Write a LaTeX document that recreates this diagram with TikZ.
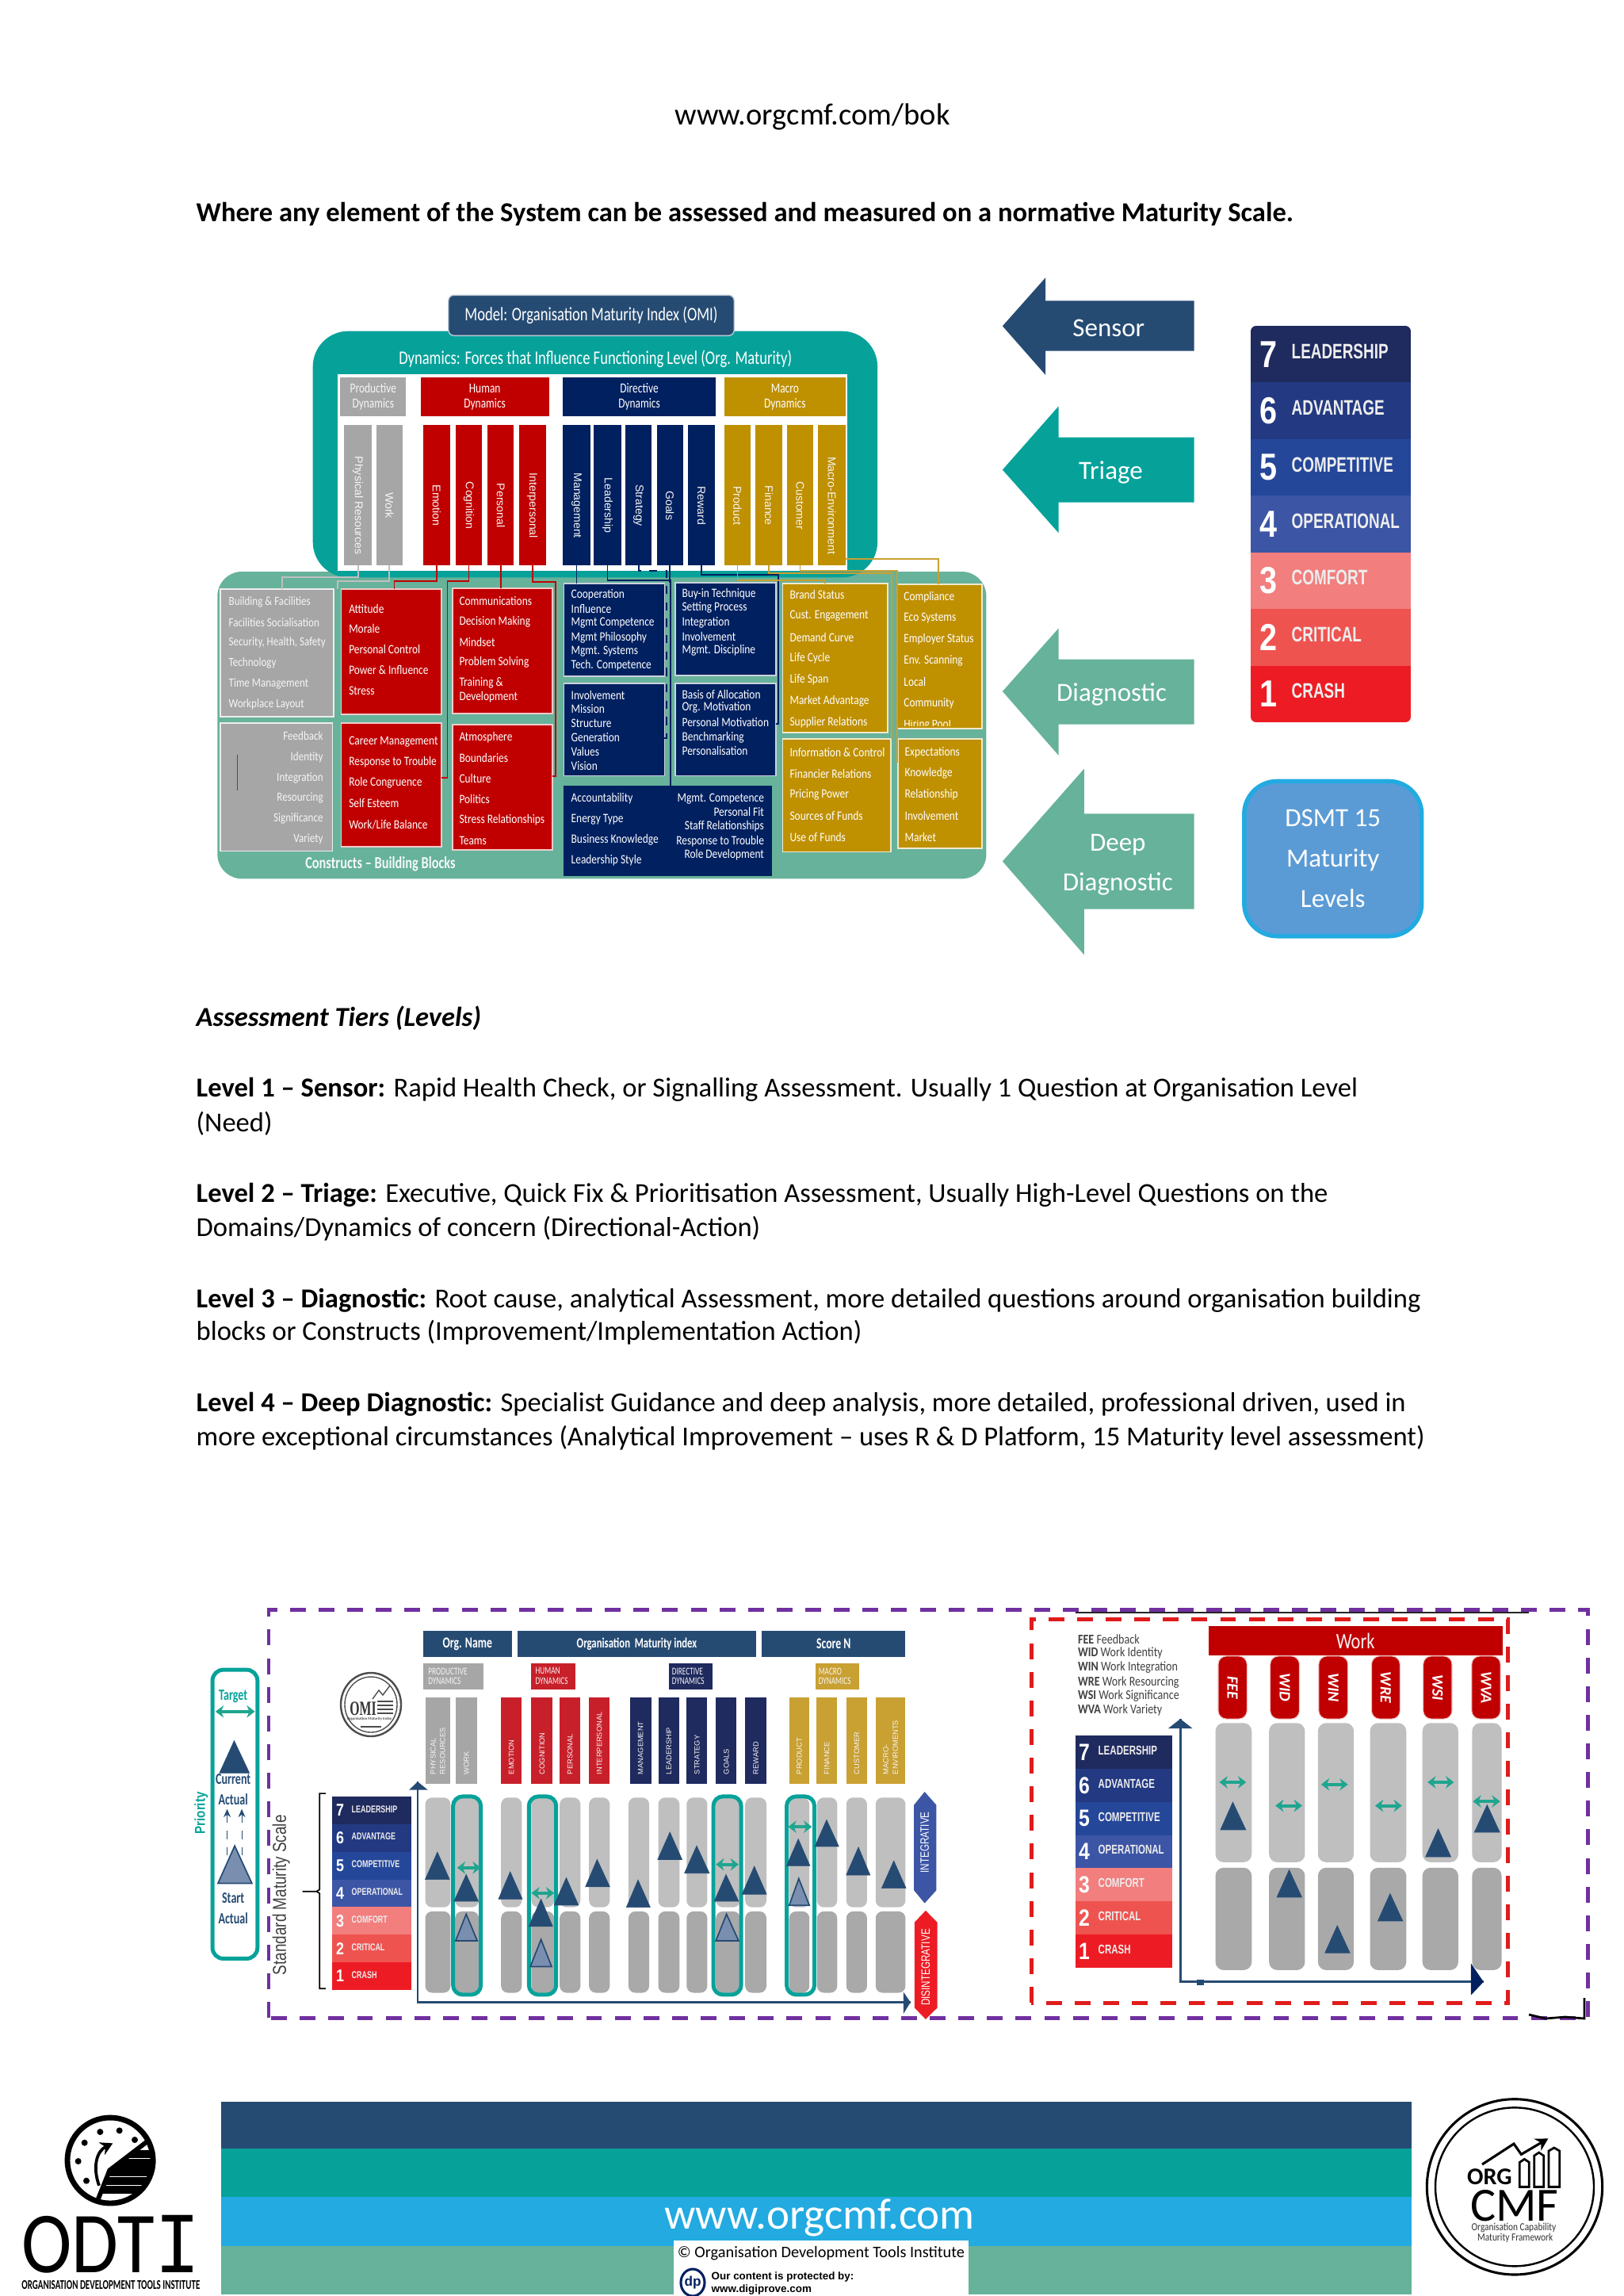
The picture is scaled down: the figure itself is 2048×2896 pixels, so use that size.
\documentclass[tikz,border=0pt]{standalone}
\usepackage{graphicx}
\usepackage{fontspec}
\setmainfont{Carlito}
\newfontfamily\arl{Liberation Sans}
\newfontfamily\srf{Liberation Serif}
\newfontfamily\mno{Liberation Mono}
\usetikzlibrary{arrows.meta,calc}
\definecolor{dk}{HTML}{264B73}
\definecolor{tl}{HTML}{06A29A}
\definecolor{gn}{HTML}{66B29A}
\definecolor{sky}{HTML}{22AAE1}
\definecolor{rd}{HTML}{C00000}
\definecolor{nv}{HTML}{002060}
\definecolor{gd}{HTML}{BF9000}
\definecolor{gy}{HTML}{A6A6A6}
\definecolor{sc7}{HTML}{1F2A5E}
\definecolor{sc6}{HTML}{233A82}
\definecolor{sc5}{HTML}{25479A}
\definecolor{sc4}{HTML}{3C55A5}
\definecolor{sc3}{HTML}{F27E7E}
\definecolor{sc2}{HTML}{EF5350}
\definecolor{sc1}{HTML}{ED1C24}
\definecolor{pp}{HTML}{7030A0}
\definecolor{rdash}{HTML}{E01B1B}
\definecolor{ta}{HTML}{1FA58F}
\definecolor{ured}{HTML}{C8202A}
\definecolor{unv}{HTML}{1F2A5E}
\definecolor{ugd}{HTML}{C9A032}
\definecolor{barU}{HTML}{BFBFBF}
\definecolor{barL}{HTML}{A9A9A9}
\definecolor{ltri}{HTML}{7A8FB0}
\definecolor{HTMLblue}{HTML}{5B9BD5}
\newcommand\fz[2]{\fontsize{#1}{#2}\selectfont}
\newcommand\tall[2]{\scalebox{1}[#1]{#2}}
\def\ux{0.29066}\def\uy{0.29066}
\newcommand{\bx}[7]{%
 \pgfmathsetmacro\bxw{(#4-#2)*\ux}\pgfmathsetmacro\bxh{(#5-#3)*\uy}%
 \node[#6,minimum width=\bxw pt,minimum height=\bxh pt,inner sep=0pt,outer sep=0pt] (#1) at ({(#2+#4)/2},{(#3+#5)/2}) {#7};}
\newcommand\lst[5]{\foreach \tx/\yy in {#5} \node[#3] (#1-\yy) at (#2,\yy) {\tall{#4}{\tx}};}
\newcommand\tri[6]{\filldraw[#6] (#1,#2) -- (#4,#5) -- (#3,#5) -- cycle;}
\newcommand\mscale[9]{%
 \pgfmathsetmacro\rh{(#4-#2)/7}%
 \foreach \n/\lab/\col [count=\i from 0] in {7/LEADERSHIP/sc7,6/ADVANTAGE/sc6,5/COMPETITIVE/sc5,4/OPERATIONAL/sc4,3/COMFORT/sc3,2/CRITICAL/sc2,1/CRASH/sc1}{%
  \fill[\col] (#1,{#2+\i*\rh}) rectangle (#3,{#2+(\i+1)*\rh+0.3});
  \node[text=white,font=\arl\bfseries\fz{#7}{#7}] (#9num\n) at (#5,{#2+(\i+.5)*\rh}) {\tall{1.2}{\n}};
  \node[text=white!93!black,anchor=west,inner sep=0pt,font=\arl\bfseries\fz{#8}{#8}] (#9lab\n) at (#6,{#2+(\i+.45)*\rh}) {\tall{1.4}{\lab}};
 }}
\tikzset{
 lw/.style={text=white,anchor=west,inner sep=0pt,font=\fz{3.9}{4}},
 lg/.style={text=white!92!gray,anchor=west,inner sep=0pt,font=\fz{3.8}{4}},
 rw/.style={text=white,anchor=east,inner sep=0pt,font=\fz{3.9}{4}},
 bbox/.style={fill=#1,draw=white!80!#1,line width=0.5pt},
 tlabel/.style={text=white,font=\fz{3.9}{5.5},align=center,inner sep=0pt},
 ctext/.style={rotate=-90,text=white!93!gray,inner sep=0pt,font=\arl\fz{4.1}{4}},
 conn/.style={line width=0.55pt,#1},
 arrowtext/.style={text=white,font=\fz{9.6}{14.5},align=center,inner sep=0pt},
 bodyt/.style={anchor=west,inner sep=0pt,text=black,font=\fz{10.05}{12}},
 dark/.style={fill=dk,draw=dk,line width=0.2pt},
 light/.style={fill=ltri,draw=dk,line width=0.5pt},
 dbl/.style={<->,>={Stealth[length=3pt,width=4.5pt]},draw=ta,line width=1.1pt},
 coltextU/.style={rotate=90,anchor=west,inner sep=0pt,text=white!92!gray,align=left,font=\arl\fz{2.7}{3.5}},
 hl/.style={draw=tl,line width=1.45pt,rounded corners=3.5pt},
 vtag/.style={text=white,rotate=90,inner sep=0pt,font=\arl\fz{3.4}{4}},
}
\begin{document}
\begin{tikzpicture}[x=0.29066pt,y=-0.29066pt]
\useasboundingbox (0,0) rectangle (2048,2896);
% --- text page
\node[inner sep=0pt,font=\fz{11.2}{13}] (hdr) at (1025,147) {www.orgcmf.com/bok};
\node[bodyt] (p0) at (247,270) {\textbf{Where any element of the System can be assessed and measured on a normative Maturity Scale.}};
\node[bodyt] (p1) at (247,1284) {\textbf{\textit{Assessment Tiers (Levels)}}};
\node[bodyt] (p2a) at (247,1374) {\textbf{Level 1 -- Sensor:} Rapid Health Check, or Signalling Assessment. Usually 1 Question at Organisation Level};
\node[bodyt] (p2b) at (247,1417) {(Need)};
\node[bodyt] (p3a) at (247,1507) {\textbf{Level 2 -- Triage:} Executive, Quick Fix \& Prioritisation Assessment, Usually High-Level Questions on the};
\node[bodyt] (p3b) at (247,1550) {Domains/Dynamics of concern (Directional-Action)};
\node[bodyt] (p4a) at (247,1640) {\textbf{Level 3 -- Diagnostic:} Root cause, analytical Assessment, more detailed questions around organisation building};
\node[bodyt] (p4b) at (247,1681) {blocks or Constructs (Improvement/Implementation Action)};
\node[bodyt] (p5a) at (247,1771) {\textbf{Level 4 -- Deep Diagnostic:} Specialist Guidance and deep analysis, more detailed, professional driven, used in};
\node[bodyt] (p5b) at (247,1814) {more exceptional circumstances (Analytical Improvement -- uses R \& D Platform, 15 Maturity level assessment)};

% --- top diagram (zoom-2 units)
\begin{scope}[shift={(260,700)},x=0.18911pt,y=-0.09689pt]
\def\ux{0.18911}\def\uy{0.09689}
\fill[gn,rounded corners=9pt] (22,63) rectangle (1513,1225);
\fill[tl,rounded corners=13pt] (207,-847) rectangle (1302,85);
\fill[white] (255,-685) rectangle (1243,60);
\bx{model}{470}{-983}{1024}{-830}{fill=dk,draw=white!70!dk,line width=0.4pt,rounded corners=2pt}{\tall{1.3}{\textcolor{white}{\fz{5.4}{6}Model: Organisation Maturity Index (OMI)}}}
\node[inner sep=0pt,text=white,font=\fz{5.4}{6}] (dyn) at (755,-742) {\tall{1.3}{Dynamics: Forces that Influence Functioning Level (Org. Maturity)}};
\bx{hP}{260}{-672}{388}{-525}{fill=gy,tlabel,text=white!92!gray}{\tall{1.3}{Productive}\\\tall{1.3}{Dynamics}}
\bx{hH}{416}{-672}{665}{-525}{fill=rd,tlabel}{\tall{1.3}{Human}\\\tall{1.3}{Dynamics}}
\bx{hD}{692}{-672}{988}{-525}{fill=nv,tlabel}{\tall{1.3}{Directive}\\\tall{1.3}{Dynamics}}
\bx{hM}{1005}{-672}{1240}{-525}{fill=gd,tlabel}{\tall{1.3}{Macro}\\\tall{1.3}{Dynamics}}
\foreach \nm/\a/\b/\c/\tx in {cPR/268/321/gy/Physical Resources,cW/330/381/gy/Work,cEm/421/473/rd/Emotion,cCo/484/535/rd/Cognition,cPe/546/597/rd/Personal,cIn/607/659/rd/Interpersonal,cMa/692/745/nv/Management,cLe/752/805/nv/Leadership,cSt/813/864/nv/Strategy,cGo/874/925/nv/Goals,cRe/935/987/nv/Reward,cPr/1005/1056/gd/Product,cFi/1065/1118/gd/Finance,cCu/1126/1178/gd/Customer,cMe/1187/1240/gd/Macro-Environment}{
 \bx{\nm}{\a}{-492}{\b}{38}{fill=\c}{}
 \node[ctext] (\nm-t) at ($(\nm)+(0,40)$) {\tx};
}
% construct boxes
\bx{gA}{28}{130}{247}{612}{bbox=gy}{}
\lst{gA}{43}{lg}{1.2}{Building \& Facilities/178,Facilities Socialisation/255,{Security, Health, Safety}/332,Technology/410,Time Management/487,Workplace Layout/565}
\bx{gB}{28}{635}{245}{1120}{bbox=gy}{}
\lst{gB}{228}{lg,anchor=east}{1.2}{Feedback/685,Identity/765,Integration/843,Resourcing/920,Significance/997,Variety/1075}
\draw[line width=0.4pt,draw=black!70] (61,755) coordinate (gBm1) -- (61,890) coordinate (gBm2);
\bx{rA}{262}{130}{457}{603}{bbox=rd}{}
\lst{rA}{276}{lw}{1.2}{Attitude/203,Morale/280,Personal Control/358,Power \& Influence/436,Stress/513}
\bx{rB}{478}{125}{672}{600}{bbox=rd}{}
\lst{rB}{490}{lw}{1.2}{Communications/173,Decision Making/253,Mindset/330,Problem Solving/407,Training \&/483,Development/538}
\bx{rC}{262}{637}{457}{1103}{bbox=rd}{}
\lst{rC}{276}{lw}{1.2}{Career Management/708,Response to Trouble/785,Role Congruence/863,Self Esteem/940,{Work/Life Balance}/1020}
\bx{rD}{478}{643}{672}{1115}{bbox=rd}{}
\lst{rD}{490}{lw}{1.2}{Atmosphere/692,Boundaries/768,Culture/847,Politics/925,Stress Relationships/1003,Teams/1080}
\bx{nA}{694}{107}{889}{458}{bbox=nv}{}
\lst{nA}{707}{lw}{1.2}{Cooperation/150,Influence/203,Mgmt Competence/257,Mgmt Philosophy/312,Mgmt. Systems/365,Tech. Competence/418}
\bx{nB}{910}{105}{1105}{455}{bbox=nv}{}
\lst{nB}{922}{lw}{1.2}{Buy-in Technique/148,Setting Process/200,Integration/255,Involvement/308,Mgmt. Discipline/360}
\bx{nC}{694}{485}{889}{835}{bbox=nv}{}
\lst{nC}{707}{lw}{1.2}{Involvement/530,Mission/583,Structure/636,Generation/690,Values/744,Vision/797}
\bx{nD}{910}{485}{1105}{835}{bbox=nv}{}
\lst{nD}{922}{lw}{1.2}{Basis of Allocation/527,Org. Motivation/578,Personal Motivation/633,Benchmarking/690,Personalisation/740}
\bx{nE}{693}{873}{1098}{1215}{fill=nv}{}
\lst{nE}{707}{lw}{1.2}{Accountability/922,Energy Type/1000,Business Knowledge/1078,Leadership Style/1155}
\lst{nEr}{1083}{rw}{1.2}{Mgmt. Competence/923,Personal Fit/973,Staff Relationships/1027,Response to Trouble/1083,Role Development/1135}
\bx{gdA}{1118}{107}{1322}{672}{bbox=gd}{}
\lst{gdA}{1131}{lw}{1.2}{Brand Status/150,Cust. Engagement/231,Demand Curve/312,Life Cycle/392,Life Span/473,Market Advantage/553,Supplier Relations/633}
\bx{gdB}{1340}{112}{1505}{658}{bbox=gd}{}
\lst{gdB}{1352}{lw}{1.2}{Compliance/160,Eco Systems/240,Employer Status/320,Env. Scanning/401,Local/481,Community/561}
\begin{scope}
\clip (1340,625) rectangle (1505,645);
\node[lw] (gdB-h) at (1352,642) {\tall{1.2}{Hiring Pool}};
\end{scope}
\bx{gdC}{1118}{697}{1328}{1123}{bbox=gd}{}
\lst{gdC}{1131}{lw}{1.2}{Information \& Control/747,Financier Relations/827,Pricing Power/907,Sources of Funds/988,Use of Funds/1068}
\bx{gdD}{1342}{697}{1505}{1110}{bbox=gd}{}
\lst{gdD}{1354}{lw}{1.2}{Expectations/747,Knowledge/827,Relationship/907,Involvement/988,Market/1068}
\node[inner sep=0pt,text=white!92!gn,font=\bfseries\fz{4.75}{5}] (cbb) at (338,1168) {\tall{1.3}{Constructs -- Building Blocks}};
% connectors
\coordinate (jW) at (255,100); \coordinate (jPR) at (148,85);
\draw[conn=barU] (cPR.south) |- (jPR) -- (jPR |- gA.north);
\draw[conn=barU] (cW.south) |- (jW) -- (jW |- gA.north);
\coordinate (jE) at (365,100); \coordinate (jC) at (468,98); \coordinate (jI) at (678,103);
\draw[conn=rd] (cEm.south) |- (jE) -- (jE |- rA.north);
\draw[conn=rd] (cCo.south) |- (jC) -- (468,843) -- (457,843);
\draw[conn=rd] (cPe.south) -- (cPe.south |- rB.north);
\draw[conn=rd] (cIn.south) |- (jI) -- (678,838) -- (672,838);
\coordinate (jL) at (900,97); \coordinate (jS) at (893,60); \coordinate (jR) at (1110,75);
\draw[conn=nv] (cMa.south) -- (cMa.south |- nA.north);
\draw[conn=nv] (cLe.south) |- (jL) -- (jL |- nE.north);
\draw[conn=nv,dashed] (cSt.south) |- (jS) -- (893,693) -- (889,693);
\draw[conn=nv] (cGo.south) -- (cGo.south |- nB.north);
\draw[conn=nv] (cRe.south) |- (jR) -- (1110,640) -- (1105,640);
\coordinate (jP) at (1200,95); \coordinate (jF) at (1330,70); \coordinate (jU) at (1340,60); \coordinate (jM) at (1420,15);
\draw[conn=ugd] (cPr.south) |- (jP) -- (jP |- gdA.north);
\draw[conn=ugd] (cFi.south) |- (jF) -- (jF |- gdC.north);
\draw[conn=ugd] (cCu.south) |- (jU) -- (1340,785);
\draw[conn=ugd] (cMe.south east |- jM) -- (jM) -- (jM |- gdB.north);
\end{scope}

% --- arrows and scale (zoom-3 units)
\begin{scope}[shift={(1240,340)},x=0.11122pt,y=-0.16313pt]
\def\ux{0.11122}\def\uy{0.16313}
\fill[dk] (697,70) -- (207,70) -- (207,18) -- (65,127) -- (207,237) -- (207,183) -- (697,183) -- cycle;
\fill[tl] (697,377) -- (250,377) -- (250,307) -- (65,450) -- (250,592) -- (250,523) -- (697,523) -- cycle;
\fill[gn] (697,876) -- (250,876) -- (250,806) -- (65,948) -- (250,1092) -- (250,1022) -- (697,1022) -- cycle;
\fill[gn] (697,1223) -- (334,1223) -- (334,1122) -- (65,1330) -- (334,1540) -- (334,1437) -- (697,1437) -- cycle;
\node[arrowtext] (aS) at (415,132) {Sensor};
\node[arrowtext] (aT) at (422,456) {Triage};
\node[arrowtext] (aD) at (425,954) {Diagnostic};
\node[arrowtext] (aDD) at (445,1337) {Deep\\Diagnostic};
\bx{dsmt}{862}{1150}{1447}{1498}{fill=HTMLblue,draw=sky,line width=1.6pt,rounded corners=12pt,text=white,font=\fz{9.6}{14.8},align=center,text depth=0pt}{DSMT 15\\Maturity\\Levels}
\end{scope}
\begin{scope}
\clip[rounded corners=2pt] (1578,411) rectangle (1780,911);
\mscale{1578}{411}{1780}{911}{1600}{1629}{11.5}{5.5}{sa}
\end{scope}

% --- purple dashed frame and red frame
\draw[pp,line width=1.45pt,dash pattern=on 5.8pt off 4.7pt] (339,2545) -- (339,2030) -- (2003,2030) -- (2003,2545) -- cycle;
\draw[rdash,line width=1.45pt,dash pattern=on 5.8pt off 4.7pt] (1301,2526) -- (1301,2042) -- (1902,2042) -- (1902,2526) -- cycle;
\draw[black!85,line width=0.4pt] (1357,2034) coordinate (tl1) -- (1929,2034) coordinate (tl2);
\draw[black,line width=0.8pt] (1929,2541) coordinate (m1) -- (1950,2546) -- (1975,2544) -- (1999,2546) -- (1999,2520) coordinate (m2);

% --- bottom-left panel (zoom-4 units)
\begin{scope}[shift={(240,2020)},x=0.18537pt,y=-0.10010pt]
\def\ux{0.18537}\def\uy{0.10010}
\draw[draw=tl,line width=1.45pt,rounded corners=4pt] (44,250) rectangle (133,1308);
\node[text=tl,inner sep=0pt,font=\bfseries\fz{4.1}{5}] (tgt) at (85,348) {\tall{1.4}{Target}};
\draw[dbl] (50,403) coordinate (t1) -- (128,403) coordinate (t2);
\tri{87}{510}{58}{117}{628}{dark}
\node[text=dk,inner sep=0pt,font=\bfseries\fz{4.1}{5}] (cur) at (85,652) {\tall{1.4}{Current}};
\node[text=dk,inner sep=0pt,font=\bfseries\fz{4.1}{5}] (act) at (85,725) {\tall{1.4}{Actual}};
\draw[-{Stealth[length=3pt,width=2.6pt]},dk,dashed,line width=0.25pt] (73,930) coordinate (q1) -- (73,760) coordinate (q2);
\draw[-{Stealth[length=3pt,width=2.6pt]},dk,dashed,line width=0.25pt] (102,930) coordinate (q3) -- (102,760) coordinate (q4);
\tri{88}{895}{55}{122}{1032}{light}
\node[text=dk,inner sep=0pt,font=\bfseries\fz{4.1}{5}] (sta) at (85,1087) {\tall{1.4}{Start}};
\node[text=dk,inner sep=0pt,font=\bfseries\fz{4.1}{5}] (act2) at (85,1160) {\tall{1.4}{Actual}};
\node[text=tl,rotate=90,inner sep=0pt,font=\arl\bfseries\fz{4.4}{5}] (pri) at (22,775) {\tall{1.2}{Priority}};
\node[text=black!75,rotate=90,inner sep=0pt,font=\arl\fz{5.5}{6}] (sms) at (180,1075) {\tall{1.25}{Standard Maturity Scale}};
\draw[black,line width=0.5pt] (268,703) coordinate (b1) -- (256,703) -- (256,1055) -- (250,1062) -- (222,1062) coordinate (b0) -- (250,1062) -- (256,1069) -- (256,1418) -- (268,1418) coordinate (b2);
\bx{uOrg}{461}{108}{636}{203}{fill=dk,text=white,font=\bfseries\fz{4}{5}}{\tall{1.4}{Org. Name}}
\bx{uOmi}{648}{108}{1119}{203}{fill=dk,text=white,font=\bfseries\fz{3.7}{5}}{\tall{1.4}{Organisation\ \ Maturity index}}
\bx{uSco}{1131}{108}{1415}{203}{fill=dk,text=white,font=\bfseries\fz{4}{5}}{\tall{1.4}{Score N}}
\bx{uP}{461}{225}{580}{323}{fill=gy}{}
\bx{uH}{675}{225}{762}{323}{fill=ured}{}
\bx{uD}{947}{225}{1033}{323}{fill=unv}{}
\bx{uM}{1237}{225}{1323}{323}{fill=ugd}{}
\foreach \nm/\xx/\aa in {uP/470/PRODUCTIVE,uH/682/HUMAN,uD/952/DIRECTIVE,uM/1242/MACRO}{
 \node[text=white!92!gray,anchor=west,inner sep=0pt,font=\fz{2.7}{3}] (\nm-a) at (\xx,255) {\tall{1.4}{\aa}};
 \node[text=white!92!gray,anchor=west,inner sep=0pt,font=\fz{2.7}{3}] (\nm-b) at (\xx,290) {\tall{1.4}{DYNAMICS}};
}
% column heads
\foreach \nm/\a/\b/\c/\tx in {
 u1/465/515/gy/{PHYSICAL\\RESOURCES},u2/526/567/gy/WORK,
 u3/615/656/ured/EMOTION,u4/675/717/ured/COGNITION,u5/731/772/ured/PERSONAL,u6/789/830/ured/INTERPERSONAL,
 u7/870/912/unv/MANAGEMENT,u8/926/968/unv/LEADERSHIP,u9/982/1023/unv/STRATEGY,u10/1040/1081/unv/GOALS,u11/1098/1140/unv/REWARD,
 u12/1185/1225/ugd/PRODUCT,u13/1239/1280/ugd/FINANCE,u14/1298/1339/ugd/CUSTOMER,u15/1356/1415/ugd/{MACRO-\\ENVIROMENTS}}{
 \bx{\nm}{\a}{352}{\b}{668}{fill=\c}{}
 \node[coltextU] (\nm-t) at ($(\nm)+(0,125)$) {\tx};
}
% scale bars
\foreach \a/\b in {465/515,524/571,615/656,675/720,731/772,789/830,867/908,926/968,982/1023,1040/1088,1098/1140,1185/1225,1240/1280,1298/1339,1356/1415}{
 \fill[barU,rounded corners=2.5pt] (\a,718) rectangle (\b,1120);
 \fill[barL,rounded corners=2.5pt] (\a,1135) rectangle (\b,1433);
}
\draw[hl] (520,714) rectangle (575,1440);
\draw[hl] (670,714) rectangle (724,1440);
\draw[hl] (1035,714) rectangle (1090,1440);
\draw[hl] (1180,714) rectangle (1235,1440);
\tri{489}{918}{465}{513}{1018}{dark}
\tri{546}{1000}{522}{570}{1098}{dark}
\tri{633}{990}{610}{657}{1090}{dark}
\tri{744}{1012}{720}{768}{1112}{dark}
\tri{805}{945}{782}{830}{1045}{dark}
\tri{886}{1020}{863}{910}{1120}{dark}
\tri{949}{845}{925}{973}{945}{dark}
\tri{1002}{895}{978}{1027}{995}{dark}
\tri{1060}{1000}{1037}{1085}{1098}{dark}
\tri{1116}{970}{1092}{1140}{1072}{dark}
\tri{1203}{870}{1180}{1226}{968}{dark}
\tri{1259}{800}{1236}{1283}{897}{dark}
\tri{1322}{900}{1298}{1345}{1002}{dark}
\tri{1392}{950}{1368}{1416}{1050}{dark}
\tri{694}{1090}{670}{717}{1190}{dark}
\tri{546}{1145}{525}{568}{1243}{light}
\tri{694}{1238}{673}{715}{1337}{light}
\tri{1061}{1145}{1040}{1085}{1243}{light}
\tri{1204}{1015}{1185}{1225}{1113}{light}
\draw[dbl] (528,975) coordinate (d1) -- (575,975) coordinate (d2);
\draw[dbl] (675,1068) coordinate (d3) -- (720,1068) coordinate (d4);
\draw[dbl] (1040,963) coordinate (d5) -- (1085,963) coordinate (d6);
\draw[dbl] (1183,825) coordinate (d7) -- (1230,825) coordinate (d8);
% axes
\coordinate (uO) at (450,1468);
\coordinate (uTop) at (450,660);
\coordinate (uRt) at (1425,1468);
\draw[dk,line width=0.7pt] (uTop) -- (uO) -- (uRt);
\fill[dk] (uTop) -- (470,690) -- (433,690) -- cycle;
\fill[dk] (uRt) -- (1411,1430) -- (1411,1510) -- cycle;
% side tags
\fill[sc4] (1453,697) -- (1476,745) -- (1476,1058) -- (1453,1105) -- (1432,1058) -- (1432,745) -- cycle;
\fill[sc1] (1455,1132) -- (1478,1175) -- (1478,1488) -- (1455,1530) -- (1433,1488) -- (1433,1175) -- cycle;
\node[vtag] (vI) at (1453,882) {\tall{1.3}{INTEGRATIVE}};
\node[vtag] (vD) at (1455,1340) {\tall{1.3}{DISINTEGRATIVE}};
\end{scope}
% scale 2
\mscale{419}{2266}{519}{2510}{429}{443}{5.2}{2.6}{sb}
% OMI logo
\draw[black!70,line width=0.7pt] (468,2150) ellipse [x radius=38,y radius=40];
\draw[black!70,line width=0.4pt] (468,2150) ellipse [x radius=33,y radius=35];
\node[inner sep=0pt,text=black!80,font=\srf\bfseries\fz{4.6}{5}] (omi) at (458,2155) {\tall{1.6}{OMI}};
\foreach \yy in {2146,2151,2156,2161} \draw[black!70,line width=0.4pt] (476,\yy) -- (496,\yy);
\draw[black!70,line width=0.4pt] (470,2143) -- (478,2132) -- (483,2138) -- (492,2126);
\node[inner sep=0pt,text=black!70,font=\bfseries\fz{1.4}{2}] (omis) at (466,2168) {Organisation Maturity Index};
\draw[black!70,line width=0.4pt] (455,2178) coordinate (om1) -- (481,2178) coordinate (om2);

% --- right panel (zoom-5 units)
\begin{scope}[shift={(1240,2020)},x=0.14459pt,y=-0.10010pt]
\def\ux{0.14459}\def\uy{0.10010}
\foreach \aa/\bb/\yy in {FEE/Feedback/137,WID/Work Identity/190,WIN/Work Integration/242,WRE/Work Resourcing/295,WSI/Work Significance/346,WVA/Work Variety/399}{
 \node[anchor=west,inner sep=0pt,text=black!75,font=\fz{4.1}{5}] (lg\aa) at (240,\yy) {\tall{1.2}{\textbf{\aa} \bb}};
}
\bx{wbar}{572}{90}{1318}{197}{fill=rd,text=white!95!rd,font=\fz{6.5}{8}}{\tall{1.25}{Work}}
\foreach \nm/\a/\b in {FEE/597/670,WID/729/803,WIN/852/926,WRE/986/1058,WSI/1117/1190,WVA/1240/1313}{
 \bx{t\nm}{\a}{200}{\b}{430}{fill=rd,draw=white!75!rd,line width=0.3pt,rounded corners=3pt}{}
 \node[text=white,rotate=-90,inner sep=0pt,font=\bfseries\itshape\fz{5.8}{6}] (t\nm-t) at (t\nm) {\nm};
}
\foreach \a/\b in {590/682,726/817,850/941,982/1074,1115/1206,1241/1316}{
 \fill[barU,rounded corners=3pt] (\a,445) rectangle (\b,955);
 \fill[barL,rounded corners=3pt] (\a,975) rectangle (\b,1350);
}
\tri{634}{735}{603}{667}{836}{dark}
\tri{777}{983}{746}{809}{1083}{dark}
\tri{899}{1187}{868}{931}{1287}{dark}
\tri{1033}{1070}{1002}{1065}{1170}{dark}
\tri{1155}{833}{1123}{1187}{935}{dark}
\tri{1279}{745}{1247}{1311}{845}{dark}
\foreach \a/\b/\yy in {600/668/662,742/810/748,858/926/670,995/1063/748,1128/1195/662,1243/1312/732}
 \draw[dbl] (\a,\yy) -- (\b,\yy);
\coordinate (vO) at (501,1393); \coordinate (vT) at (501,430); \coordinate (vR) at (1270,1393);
\draw[dk,line width=0.8pt] (vT) -- (vO) -- (vR);
\fill[dk] (vT) -- (532,465) -- (470,465) -- cycle;
\fill[nv] (vR) -- (1238,1325) -- (1238,1442) -- cycle;
\fill[dk] (542,1385) rectangle (560,1405);
\end{scope}
\mscale{1357}{2189}{1479}{2482}{1368}{1385}{7.2}{3.35}{sc}

% --- footer
\fill[dk] (279,2651) rectangle (1781,2710);
\fill[tl] (279,2710) rectangle (1781,2771);
\fill[sky] (279,2771) rectangle (1781,2833);
\fill[gn] (279,2833) rectangle (1781,2894);
\node[inner sep=0pt,text=white,font=\fz{16}{18}] (web) at (1034,2797) {www.orgcmf.com};
\fill[white] (850,2826) rectangle (1222,2896);
\node[inner sep=0pt,font=\fz{5.9}{7}] (cprt) at (1036,2842) {© Organisation Development Tools Institute};
\node[anchor=west,inner sep=0pt,font=\arl\bfseries\fz{3.9}{5}] (dp1) at (897,2872) {Our content is protected by:};
\node[anchor=west,inner sep=0pt,font=\arl\bfseries\fz{3.9}{5}] (dp2) at (897,2888) {www.digiprove.com};
\draw[nv,fill=white,line width=0.9pt] (874,2879) ellipse [x radius=15,y radius=17];
\node[inner sep=0pt,text=nv,font=\arl\bfseries\fz{5}{5}] (dpl) at (874,2879) {dp};

% --- ODTI logo (zoom-7 units)
\begin{scope}[shift={(10,2650)},x=0.09689pt,y=-0.09689pt]
\begin{scope}
\clip (387,225) circle [radius=172];
\clip (340,385) -- (385,262) -- (525,150) -- (580,150) -- (580,410) -- cycle;
\foreach \yy in {200,235,268,302,336} \draw[black,line width=3pt] (300,\yy) -- (600,\yy);
\end{scope}
\draw[black,line width=2pt] (387,225) circle [radius=162];
\draw[black,line width=1.7pt] (338,380) -- (385,262) -- (525,155);
\foreach \xx/\yy in {349/117,422/112,480/147,290/158,266/228,297/302} \fill[black] (\xx,\yy) circle [radius=12];
\draw[black,line width=1.1pt,-{Stealth[length=4.5pt,width=5pt]}] (345,320) .. controls (320,250) and (335,190) .. (397,160);
\node[inner sep=0pt,anchor=west] (odti) at (50,541) {\resizebox{65.4pt}{21pt}{ODT{\mno I}}};
\node[inner sep=0pt,anchor=west] (odtis) at (50,697) {\resizebox{65.4pt}{3.2pt}{\bfseries ORGANISATION DEVELOPMENT TOOLS INSTITUTE}};
\end{scope}

% --- CMF logo (zoom-8 units)
\begin{scope}[shift={(1790,2640)},x=0.09689pt,y=-0.09689pt]
\draw[black,line width=0.9pt] (363,355) circle [radius=332];
\draw[black,line width=0.7pt] (363,355) circle [radius=300];
\draw[black,line width=0.9pt,-{Stealth[length=4.5pt,width=5pt]}] (240,270) -- (360,192) -- (388,232) -- (490,172);
\foreach \a/\b/\t in {382/418/250,437/473/225,492/533/207}
 \draw[black,line width=0.8pt] (\a,355) -- (\a,\t+12) -- ({(\a+\b)/2},\t) -- (\b,\t+12) -- (\b,355) -- cycle;
\node[inner sep=0pt,font=\bfseries\fz{8.8}{9}] (org) at (268,318) {ORG};
\node[inner sep=0pt,font=\fz{17.5}{18}] (cmf) at (362,425) {CMF};
\node[inner sep=0pt,font=\fz{3.3}{4},text=black!80] (cmf1) at (360,510) {\tall{1.2}{Organisation Capability}};
\node[inner sep=0pt,font=\fz{3.3}{4},text=black!80] (cmf2) at (365,548) {\tall{1.2}{Maturity Framework}};
\end{scope}
\end{tikzpicture}
\end{document}
